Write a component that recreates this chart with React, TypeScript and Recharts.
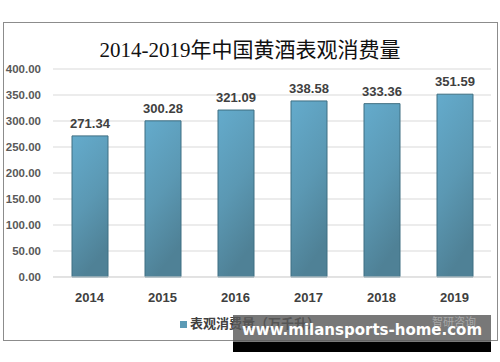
import { BarChart, Bar, XAxis, YAxis, CartesianGrid, LabelList } from "recharts";

const years = ["2014", "2015", "2016", "2017", "2018", "2019"];
const consumption = [271.34, 300.28, 321.09, 338.58, 333.36, 351.59];
const yTicks = [0, 50, 100, 150, 200, 250, 300, 350, 400];

const seriesName = "表观消费量（万千升）";

export default function App() {
  const data = years.map((year, i) => ({ year, value: consumption[i] }));

  return (
    <div style={{ position: "absolute", left: 0, top: 0, width: 500, height: 362, background: "#fff" }}>
      <div
        style={{
          position: "absolute",
          left: 3,
          top: 22,
          width: 493,
          height: 317,
          border: "1px solid #8c8c8c",
        }}
      />
      <div
        style={{
          position: "absolute",
          left: 0,
          top: 33,
          width: 500,
          textAlign: "center",
          fontFamily: "'Liberation Serif', 'Noto Sans CJK SC', serif",
          fontSize: 21,
          color: "#111",
        }}
      >
        2014-2019年中国黄酒表观消费量
      </div>
      <div style={{ position: "absolute", left: 0, top: 0 }}>
        <BarChart width={500} height={362} data={data} margin={{ top: 69, right: 9, bottom: 55, left: 0 }}>
          <defs>
            <linearGradient id="barFill" x1="0" y1="0" x2="0.3" y2="1">
              <stop offset="0%" stopColor="#64abcc" />
              <stop offset="55%" stopColor="#5b98b3" />
              <stop offset="100%" stopColor="#4f8196" />
            </linearGradient>
          </defs>
          <CartesianGrid vertical={false} stroke="#d9d9d9" />
          <XAxis
            dataKey="year"
            height={30}
            axisLine={{ stroke: "#d9d9d9" }}
            tickLine={false}
            tickMargin={10}
            tick={{ fill: "#404040", fontSize: 13, fontWeight: 700, fontFamily: "'Liberation Sans', sans-serif" }}
          />
          <YAxis
            width={53}
            domain={[0, 400]}
            ticks={yTicks}
            axisLine={false}
            tickLine={false}
            tickSize={0}
            tickMargin={12}
            tickFormatter={(v: number) => v.toFixed(2)}
            tick={{ fill: "#595959", fontSize: 11.5, fontWeight: 700, fontFamily: "'Liberation Sans', sans-serif" }}
          />
          <Bar
            dataKey="value"
            name={seriesName}
            barSize={36}
            fill="url(#barFill)"
            stroke="#3f6f82"
            strokeWidth={1}
            isAnimationActive={false}
          >
            <LabelList
              dataKey="value"
              position="top"
              offset={8}
              formatter={(v: number) => v.toFixed(2)}
              style={{ fill: "#404040", fontSize: 13, fontWeight: 700, fontFamily: "'Liberation Sans', sans-serif" }}
            />
          </Bar>
        </BarChart>
      </div>
      <div
        style={{
          position: "absolute",
          left: 0,
          top: 313,
          width: 500,
          textAlign: "center",
          fontFamily: "'Noto Sans CJK SC', sans-serif",
          fontSize: 13,
          fontWeight: 700,
          color: "#404040",
        }}
      >
        <span
          style={{
            display: "inline-block",
            width: 7,
            height: 7,
            background: "#5b9ab5",
            marginRight: 3,
            verticalAlign: "middle",
          }}
        />
        {seriesName}
      </div>
      {/* watermark overlay */}
      <div
        style={{
          position: "absolute",
          left: 233,
          top: 315,
          width: 258,
          height: 27,
          background: "rgba(90,90,90,0.82)",
        }}
      />
      <div
        style={{
          position: "absolute",
          left: 432,
          top: 313,
          fontFamily: "'Noto Sans CJK SC', sans-serif",
          fontSize: 11,
          color: "rgba(200,200,200,0.6)",
        }}
      >
        智研咨询
      </div>
      <div
        style={{
          position: "absolute",
          left: 233,
          top: 342,
          width: 258,
          height: 10,
          background: "#000",
        }}
      />
      <div
        style={{
          position: "absolute",
          left: 233,
          top: 321,
          width: 258,
          textAlign: "center",
          fontFamily: "'DejaVu Sans', sans-serif",
          fontSize: 15,
          fontWeight: 700,
          color: "#fff",
        }}
      >
        www.milansports-home.com
      </div>
    </div>
  );
}
